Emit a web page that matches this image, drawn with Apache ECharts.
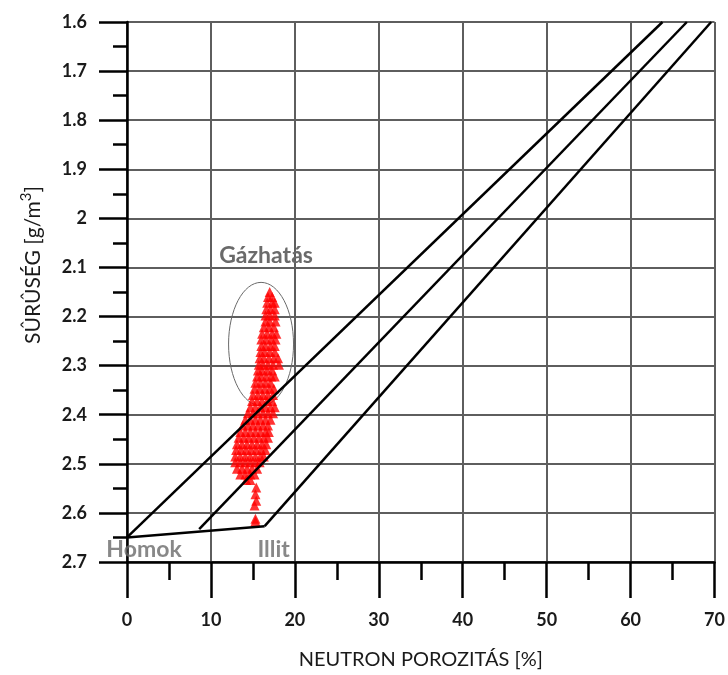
<!DOCTYPE html>
<html>
<head>
<meta charset="utf-8">
<script src="https://cdn.jsdelivr.net/npm/echarts@6/dist/echarts.min.js"></script>
<style>
  html, body { margin: 0; padding: 0; background: #ffffff; }
  #chart { width: 728px; height: 675px; }
</style>
</head>
<body>
<div id="chart"></div>
<script>
// Neutron porosity – bulk density crossplot with matrix lines

// Axis ticks
const porosityTicks = [0, 10, 20, 30, 40, 50, 60, 70];
const densityTicks = [1.6, 1.7, 1.8, 1.9, 2.0, 2.1, 2.2, 2.3, 2.4, 2.5, 2.6, 2.7];

// Matrix end points
const endpointNames = ['Homok', 'Illit'];
const endpointPorosity = [0, 16.4];
const endpointDensity = [2.65, 2.627];

// Lithology lines [neutron %, density g/cm3]
const sandLine = [[0, 2.65], [63.8, 1.6]];
const mixedLine = [[8.6, 2.633], [66.7, 1.6]];
const illitLine = [[16.4, 2.627], [69.6, 1.6]];
const matrixBase = [[0, 2.65], [16.4, 2.627]];

// Gas-effect zone: centre porosity, centre density, half-width, half-height
const gasZone = [15.97, 2.256, 3.87, 0.1256];
const gasZoneLabel = 'Gázhatás';

// Measured samples [neutron %, density]
const samples = [
  [17.0, 2.150],
  [16.8, 2.160], [17.3, 2.160],
  [16.7, 2.172], [17.3, 2.172], [17.6, 2.172],
  [16.6, 2.185], [17.1, 2.185], [17.6, 2.185],
  [16.5, 2.198], [17.0, 2.198], [17.6, 2.198],
  [16.5, 2.210], [17.0, 2.210], [17.7, 2.210],
  [16.3, 2.222], [16.9, 2.222], [17.5, 2.222],
  [16.1, 2.235], [16.7, 2.235], [17.3, 2.235], [17.8, 2.235],
  [16.0, 2.247], [16.6, 2.247], [17.2, 2.247], [17.7, 2.247],
  [16.0, 2.260], [16.5, 2.260], [17.1, 2.260], [17.6, 2.260],
  [15.9, 2.272], [16.4, 2.272], [17.0, 2.272], [17.6, 2.272],
  [15.8, 2.285], [16.3, 2.285], [16.9, 2.285], [17.5, 2.285], [18.0, 2.285],
  [15.7, 2.298], [16.2, 2.298], [16.8, 2.298], [17.4, 2.298], [18.1, 2.298],
  [15.6, 2.310], [16.1, 2.310], [16.7, 2.310], [17.3, 2.310],
  [15.5, 2.322], [16.0, 2.322], [16.6, 2.322], [17.2, 2.322], [17.6, 2.322],
  [15.3, 2.335], [15.9, 2.335], [16.5, 2.335], [17.1, 2.335],
  [15.2, 2.347], [15.8, 2.347], [16.4, 2.347], [17.0, 2.347], [17.5, 2.347],
  [15.0, 2.360], [15.6, 2.360], [16.2, 2.360], [16.8, 2.360], [17.4, 2.360],
  [14.9, 2.372], [15.5, 2.372], [16.1, 2.372], [16.7, 2.372], [17.3, 2.372],
  [14.7, 2.385], [15.3, 2.385], [15.9, 2.385], [16.5, 2.385], [17.1, 2.385], [17.6, 2.385],
  [14.4, 2.397], [15.0, 2.397], [15.6, 2.397], [16.2, 2.397], [16.8, 2.397], [17.4, 2.397],
  [14.1, 2.410], [14.7, 2.410], [15.3, 2.410], [15.9, 2.410], [16.5, 2.410], [17.1, 2.410],
  [13.8, 2.422], [14.4, 2.422], [15.0, 2.422], [15.6, 2.422], [16.2, 2.422], [16.8, 2.422],
  [13.5, 2.435], [14.1, 2.435], [14.7, 2.435], [15.3, 2.435], [15.9, 2.435], [16.5, 2.435], [16.9, 2.435],
  [13.3, 2.447], [13.9, 2.447], [14.5, 2.447], [15.1, 2.447], [15.7, 2.447], [16.3, 2.447], [16.8, 2.447],
  [13.1, 2.460], [13.7, 2.460], [14.3, 2.460], [14.9, 2.460], [15.5, 2.460], [16.1, 2.460], [16.6, 2.460],
  [13.0, 2.472], [13.6, 2.472], [14.2, 2.472], [14.8, 2.472], [15.4, 2.472], [16.0, 2.472], [16.5, 2.472],
  [12.9, 2.485], [13.5, 2.485], [14.1, 2.485], [14.7, 2.485], [15.3, 2.485], [15.9, 2.485], [16.3, 2.485],
  [12.9, 2.497], [13.5, 2.497], [14.1, 2.497], [14.7, 2.497], [15.3, 2.497], [15.8, 2.497],
  [13.1, 2.510], [13.7, 2.510], [14.3, 2.510], [14.9, 2.510], [15.5, 2.510],
  [13.5, 2.522], [14.1, 2.522], [14.7, 2.522], [15.2, 2.522],
  [14.2, 2.533], [14.7, 2.533],
  [15.4, 2.548], [15.3, 2.562], [15.4, 2.575], [15.2, 2.585],
  [15.3, 2.612], [15.3, 2.617]
];

const FONT = 'Lato, "Open Sans", sans-serif';
const chart = echarts.init(document.getElementById('chart'), null, { renderer: 'canvas' });

const lineStyleBlack = { color: '#000000', width: 2.5 };
function lithoLine(name, data) {
  return {
    name: name,
    type: 'line',
    data: data,
    symbol: 'none',
    lineStyle: lineStyleBlack,
    z: 5,
    silent: true,
    animation: false
  };
}

const labelOffsets = [[17, 12], [9, 23]];

const option = {
  backgroundColor: '#ffffff',
  animation: false,
  grid: { left: 127, right: 13, top: 22, bottom: 110 },
  xAxis: {
    type: 'value',
    min: porosityTicks[0],
    max: porosityTicks[porosityTicks.length - 1],
    interval: porosityTicks[1] - porosityTicks[0],
    name: 'NEUTRON POROZITÁS [%]',
    nameLocation: 'middle',
    nameGap: 88,
    nameTextStyle: { fontFamily: FONT, fontSize: 20, color: '#1a1a1a' },
    axisLine: { onZero: false, lineStyle: { color: '#000000', width: 2.5 } },
    axisTick: { inside: false, length: 36, lineStyle: { color: '#000000', width: 2.5 } },
    minorTick: { show: true, splitNumber: 2, length: 18, lineStyle: { color: '#000000', width: 2.5 } },
    splitLine: { show: true, lineStyle: { color: '#5e5e5e', width: 2 } },
    axisLabel: { margin: 49, fontFamily: FONT, fontSize: 18, fontWeight: 'bold', color: '#1a1a1a' }
  },
  yAxis: {
    type: 'value',
    inverse: true,
    min: densityTicks[0],
    max: densityTicks[densityTicks.length - 1],
    interval: 0.1,
    name: 'SÛRÛSÉG [g/m{sup|3}]',
    nameLocation: 'middle',
    nameRotate: 90,
    nameGap: 80,
    nameTextStyle: {
      fontFamily: FONT, fontSize: 21, color: '#1a1a1a', lineHeight: 28,
      padding: [0, 0, 0, 54],
      rich: { sup: { fontFamily: FONT, fontSize: 15, color: '#1a1a1a', verticalAlign: 'top', lineHeight: 28 } }
    },
    axisLine: { onZero: false, lineStyle: { color: '#000000', width: 2.5 } },
    axisTick: { inside: false, length: 28, lineStyle: { color: '#000000', width: 2.5 } },
    minorTick: { show: true, splitNumber: 2, length: 14, lineStyle: { color: '#000000', width: 2.5 } },
    splitLine: { show: true, lineStyle: { color: '#5e5e5e', width: 2 } },
    axisLabel: { margin: 40, fontFamily: FONT, fontSize: 18, fontWeight: 'bold', color: '#1a1a1a' }
  },
  series: [
    {
      name: 'gas zone',
      type: 'custom',
      data: [gasZone],
      z: 2,
      silent: true,
      renderItem: function (params, api) {
        const c = api.coord([api.value(0), api.value(1)]);
        const s = api.size([api.value(2), api.value(3)]);
        const rx = Math.abs(s[0]);
        const ry = Math.abs(s[1]);
        return {
          type: 'group',
          children: [
            {
              type: 'ellipse',
              shape: { cx: c[0], cy: c[1], rx: rx, ry: ry },
              style: { fill: null, stroke: '#6a6a6a', lineWidth: 1 }
            },
            {
              type: 'text',
              x: c[0] + 5,
              y: c[1] - ry - 27,
              style: {
                text: gasZoneLabel, fontFamily: FONT, fontSize: 23, fontWeight: 'bold',
                fill: '#6a6a6a', align: 'center', verticalAlign: 'middle'
              }
            }
          ]
        };
      }
    },
    {
      name: 'samples',
      type: 'scatter',
      data: samples,
      symbol: 'triangle',
      symbolSize: 10,
      itemStyle: { color: '#ff0000' },
      z: 3,
      silent: true
    },
    lithoLine('Homok', sandLine),
    lithoLine('Köztes', mixedLine),
    lithoLine('Illit', illitLine),
    lithoLine('Mátrix', matrixBase),
    {
      name: 'endpoints',
      type: 'scatter',
      symbolSize: 0,
      z: 6,
      silent: true,
      data: endpointNames.map(function (n, i) {
        return {
          name: n,
          value: [endpointPorosity[i], endpointDensity[i]],
          label: { offset: labelOffsets[i] }
        };
      }),
      label: {
        show: true,
        position: 'inside',
        formatter: '{b}',
        fontFamily: FONT, fontSize: 23, fontWeight: 'bold', color: '#6a6a6a'
      }
    }
  ]
};

chart.setOption(option);
</script>
</body>
</html>
